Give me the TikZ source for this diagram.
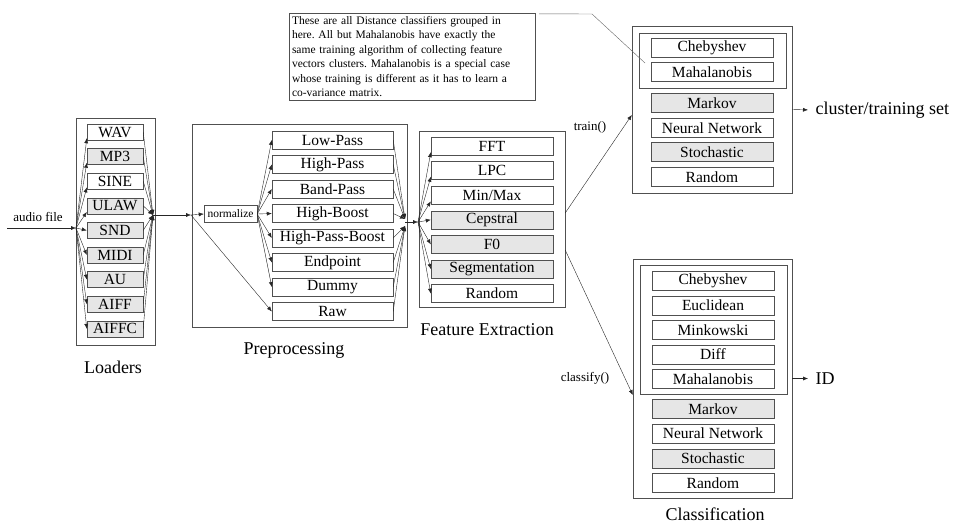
\documentclass[tikz,border=0pt]{standalone}
\usepackage{fontspec}
\setmainfont{Liberation Serif}
\usepackage{xcolor}
\usetikzlibrary{arrows.meta}
\definecolor{boxgray}{HTML}{E6E6E6}
\definecolor{edgegray}{HTML}{505050}
\frenchspacing

\begin{document}
\begin{tikzpicture}[x=1pt, y=-1pt,
  box/.style={draw=edgegray, fill=white, inner sep=0pt, minimum height=18pt, font=\fontsize{15.5}{16}\selectfont},
  ldbox/.style={box, minimum width=56pt, minimum height=16pt},
  ppbox/.style={box, minimum width=121pt},
  febox/.style={box, minimum width=122pt},
  clbox/.style={box, minimum width=122pt, minimum height=19pt},
  frame/.style={draw=edgegray, inner sep=0pt},
  caption/.style={font=\fontsize{18}{20}\selectfont},
  small/.style={font=\fontsize{13}{14}\selectfont},
  arr/.style={draw=black!85, -{Latex[length=5pt,width=4pt]}}]
\useasboundingbox (0,0) rectangle (959,525);
% Frames
\node[frame, minimum width=79pt, minimum height=227pt] (loaders) at (115.5,231.5) {};
\node[frame, minimum width=215pt, minimum height=203pt] (prep) at (299.5,225.5) {};
\node[frame, minimum width=146pt, minimum height=176pt] (feat) at (492,219) {};
\node[frame, minimum width=160pt, minimum height=167pt] (train) at (712,109.5) {};
\node[frame, minimum width=147pt, minimum height=55pt] (trgroup) at (712.5,60.5) {};
\node[frame, minimum width=159pt, minimum height=239pt] (classif) at (712.5,378.5) {};
\node[frame, minimum width=147pt, minimum height=129pt] (clgroup) at (713.5,329.5) {};
% Loaders (9 formats)
\foreach \n/\t/\c [count=\i from 0] in {wav/WAV/white, mp3/MP3/boxgray, sine/SINE/white, ulaw/ULAW/boxgray, snd/SND/boxgray, midi/MIDI/boxgray, au/AU/boxgray, aiff/AIFF/boxgray, aiffc/AIFFC/boxgray}
    \node[ldbox, fill=\c] (\n) at (115,132+24.6*\i) {\t};
% Preprocessing
\node[box, minimum width=53pt, minimum height=17pt, font=\fontsize{11.5}{12}\selectfont] (norm) at (230.5,214) {normalize};
\foreach \n/\t [count=\i from 0] in {lowp/Low-Pass, highp/High-Pass, bandp/Band-Pass, highb/High-Boost, hpb/High-Pass-Boost, endp/Endpoint, dummy/Dummy, raw/Raw}
    \node[ppbox] (\n) at (332.5,140+24.5*\i) {\t};
% Feature extraction
\foreach \n/\t/\c [count=\i from 0] in {fft/FFT/white, lpc/LPC/white, minmax/{Min/Max}/white, ceps/Cepstral/boxgray, fzero/F0/boxgray, segm/Segmentation/boxgray, frand/Random/white}
    \node[febox, fill=\c] (\n) at (492,146+24.6*\i) {\t};
% Training classifiers
\foreach \n/\t/\c/\y in {tcheb/Chebyshev/white/47.5, tmaha/Mahalanobis/white/72, tmark/Markov/boxgray/103, tneur/Neural Network/white/128, tstoc/Stochastic/boxgray/152, trand/Random/white/177}
    \node[clbox, fill=\c] (\n) at (712,\y) {\t};
% Classification classifiers
\foreach \n/\t/\c/\y in {ccheb/Chebyshev/white/281, ceucl/Euclidean/white/305.5, cmink/Minkowski/white/330, cdiff/Diff/white/354.5, cmaha/Mahalanobis/white/379, cmark/Markov/boxgray/409, cneur/Neural Network/white/433.6, cstoc/Stochastic/boxgray/458.2, crand/Random/white/482.8}
    \node[clbox, fill=\c] (\n) at (713,\y) {\t};
% Captions
\node[caption] (ldcap) at (113,367) {Loaders};
\node[caption] (ppcap) at (294,350) {Preprocessing};
\node[caption] (fecap) at (487,330) {Feature Extraction};
\node[caption] (clcap) at (715,514) {Classification};
\node[caption, anchor=west] (trset) at (812,110) {cluster/training set};
\node[caption, anchor=west] (idout) at (812,378.5) {ID};
% Note
\node[draw=edgegray, inner sep=3pt, text width=240pt, minimum height=87pt, align=left, font=\fontsize{11.5}{14.4}\selectfont] (note) at (412,56.5)
    {These are all Distance classifiers grouped in\\
     here. All but Mahalanobis have exactly the\\
     same training algorithm of collecting feature\\
     vectors clusters. Mahalanobis is a special case\\
     whose training is different as it has to learn a\\
     co-variance matrix.};
\coordinate (callb) at (592,14);
\coordinate (callc) at (645,63);
\draw[draw=black!60] ([xshift=4pt,yshift=-1pt]note.north east) -- (callb) -- (callc);
% Input to loaders
\coordinate (audio) at (7,228);
\coordinate (ldin) at (76,228);
\draw[arr] (audio) -- (ldin);
\node[small] (audiolbl) at (38,217) {audio file};
\foreach \n in {wav,mp3,sine,ulaw}
    \draw[arr] (ldin) -- ([yshift=2pt]\n.south west);
\foreach \n in {snd,midi,au,aiff,aiffc}
    \draw[arr] (ldin) -- (\n.west);
% Loaders to preprocessing
\coordinate (ldout) at (153,215);
\coordinate (ppin) at (191,215);
\foreach \n in {wav,mp3,sine,ulaw,snd,midi,au,aiff,aiffc}
    \draw[arr] (\n.east) -- (ldout);
\draw[arr] (ldout) -- (ppin);
\draw[arr] (ppin) -- (norm.west);
\draw[arr] (ppin) -- (raw.west);
\foreach \n in {lowp,highp,bandp,highb,hpb,endp,dummy}
    \draw[arr] (norm.east) -- (\n.west);
% Preprocessing to features
\coordinate (ppouta) at (405,219);
\coordinate (ppoutb) at (405,226);
\coordinate (ppout) at (405,222);
\coordinate (fein) at (418,222);
\foreach \n in {lowp,highp,bandp,highb}
    \draw[arr] (\n.east) -- (ppouta);
\foreach \n in {hpb,endp,dummy,raw}
    \draw[arr] (\n.east) -- (ppoutb);
\draw[arr] (ppout) -- (fein);
\foreach \n in {fft,lpc,minmax}
    \draw[arr] (fein) -- ([yshift=3pt]\n.south west);
\foreach \n in {ceps,fzero,segm,frand}
    \draw[arr] (fein) -- (\n.west);
% Features to classifiers
\draw[arr] ([yshift=6pt]feat.east) -- ([yshift=-5.5pt]train.west);
\node[small] (trainlbl) at (590,127) {train()};
\draw[arr] ([yshift=-31pt]feat.east) -- ([yshift=-16.5pt]classif.west);
\node[small] (classlbl) at (585,378) {classify()};
\draw[arr, shorten >=4pt] (train.east) -- (trset.west);
\draw[arr, shorten >=4pt] (classif.east) -- (idout.west);
\end{tikzpicture}
\end{document}
